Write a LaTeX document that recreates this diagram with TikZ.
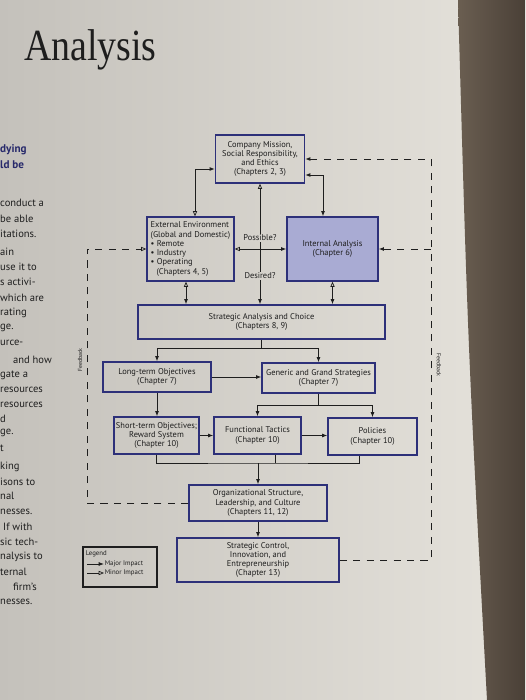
\documentclass[tikz,border=0pt]{standalone}
\usepackage{fontspec}
\setsansfont{PT Sans}
\newfontfamily\titlefont{Liberation Serif}
\usepackage{tikz}
\usetikzlibrary{arrows.meta,positioning,calc}

\definecolor{pageL}{HTML}{C4C1BB}
\definecolor{pageM}{HTML}{D5D2CC}
\definecolor{pageR}{HTML}{E6E3DC}
\definecolor{spineL}{HTML}{6A5E51}
\definecolor{spineR}{HTML}{4A4037}
\definecolor{boxline}{HTML}{2D3079}
\definecolor{iafill}{HTML}{A9ABD3}
\definecolor{ink}{HTML}{1E1E1E}
\definecolor{headblue}{HTML}{27296B}

\tikzset{
  majortip/.tip={Latex[length=4.5pt,width=3.4pt]},
  minortip/.tip={Triangle[open,length=4.5pt,width=3.6pt,line width=0.6pt]},
  chapbox/.style={draw=boxline, line width=1.1pt, align=center, inner sep=1pt,
    font=\sffamily\fontsize{7.2}{7.9}\selectfont, text=ink},
  link/.style={draw=ink, line width=0.75pt},
  feedback/.style={draw=ink, line width=0.8pt, dash pattern=on 6pt off 5.5pt},
  cuelabel/.style={fill=pageM, inner sep=1pt, font=\sffamily\fontsize{7.2}{7.9}\selectfont, text=ink},
  fblabel/.style={inner sep=0pt, font=\sffamily\fontsize{5}{6}\selectfont, text=ink},
  legendtext/.style={anchor=west, inner sep=0.5pt, font=\sffamily\fontsize{5.8}{6.5}\selectfont, text=ink},
  sidetext/.style={anchor=west, inner sep=0pt, font=\sffamily\fontsize{9}{11}\selectfont, text=ink},
}

\begin{document}
\begin{tikzpicture}[x=0.03cm, y=-0.03cm]
  % Page
  \useasboundingbox (0,0) rectangle (525,700);
  \shade[left color=pageL, right color=pageR] (0,0) rectangle (525,700);
  \shade[left color=spineL, right color=spineR] (458,0) .. controls (468,350) .. (487,700) -- (525,700) -- (525,0) -- cycle;

  % Heading and the cut-off text column
  \node[anchor=base west, inner sep=0pt, xscale=0.85, font=\titlefont\fontsize{38}{38}\selectfont, text=ink] (title) at (24,60) {Analysis};
  \node[sidetext, font=\sffamily\bfseries\fontsize{9.5}{11}\selectfont, text=headblue] (head1) at (0,150) {dying};
  \node[sidetext, font=\sffamily\bfseries\fontsize{9.5}{11}\selectfont, text=headblue] (head2) at (0,165) {ld be};
  \foreach \x/\y/\t [count=\i] in {0/203/conduct a, 0/219/be able, 0/234/itations., 0/252/ain,
      0/267/use it to, 0/282/s activi-, 0/298/which are, 0/313/rating, 0/328/ge., 0/343/urce-,
      13/360/and how, 0/375/gate a, 0/390/resources, 0/405/resources, 0/419/d, 0/433/ge.,
      0/448/t, 0/467/king, 0/482/isons to, 0/496/nal, 0/512/nesses., 3/527/If with,
      0/542/sic tech-, 0/557/nalysis to, 0/572/ternal, 13/587/firm’s, 0/602/nesses.} {
    \node[sidetext] (side\i) at (\x,\y) {\t};
  }

  % Boxes
  \node[chapbox, minimum width=2.67cm, minimum height=1.44cm] (mission) at (260,159)
    {Company Mission,\\Social Responsibility,\\and Ethics\\(Chapters 2, 3)};
  \node[chapbox, align=left, minimum width=2.61cm, minimum height=1.92cm] (external) at (190.5,249)
    {External Environment\\(Global and Domestic)\\\textbullet\ Remote\\\textbullet\ Industry\\\textbullet\ Operating\\\hspace*{0.7em}(Chapters 4, 5)};
  \node[chapbox, fill=iafill, minimum width=2.73cm, minimum height=1.92cm] (internal) at (332.5,249)
    {Internal Analysis\\(Chapter 6)};
  \node[chapbox, minimum width=7.41cm, minimum height=1.02cm] (choice) at (261.5,322)
    {Strategic Analysis and Choice\\(Chapters 8, 9)};
  \node[chapbox, minimum width=3.24cm, minimum height=0.90cm] (longterm) at (157,377)
    {Long-term Objectives\\(Chapter 7)};
  \node[chapbox, minimum width=3.39cm, minimum height=0.90cm] (grand) at (318.5,378)
    {Generic and Grand Strategies\\(Chapter 7)};
  \node[chapbox, inner sep=0.5pt, minimum width=2.55cm, minimum height=1.11cm] (shortterm) at (156.5,435.5)
    {Short-term Objectives;\\Reward System\\(Chapter 10)};
  \node[chapbox, minimum width=2.61cm, minimum height=1.11cm] (tactics) at (257.5,435.5)
    {Functional Tactics\\(Chapter 10)};
  \node[chapbox, minimum width=2.67cm, minimum height=1.11cm] (policies) at (372.5,436.5)
    {Policies\\(Chapter 10)};
  \node[chapbox, minimum width=4.14cm, minimum height=1.08cm] (structure) at (258,503)
    {Organizational Structure,\\Leadership, and Culture\\(Chapters 11, 12)};
  \node[chapbox, minimum width=4.86cm, minimum height=1.32cm] (control) at (258,560)
    {Strategic Control,\\Innovation, and\\Entrepreneurship\\(Chapter 13)};

  % Top connectors
  \draw[link, minortip-majortip] (195,0 |- external.north) |- (0,169 -| mission.west);
  \draw[link, majortip-majortip] (mission.east |- 0,175) -| (323,0 |- internal.north);
  \draw[link, minortip-majortip] (external.east) -- (external.east -| internal.west);
  \draw[link, minortip-majortip] (mission.south) -- (mission.south |- choice.north);
  \node[cuelabel] (possible) at (260,238) {Possible?};
  \node[cuelabel] (desired) at (260,276) {Desired?};
  \draw[link, minortip-majortip] (186,0 |- external.south) -- (186,0 |- choice.north);
  \draw[link, minortip-majortip] (internal.south) -- (internal.south |- choice.north);

  % Choice down to objectives and strategies
  \path (choice.south) ++(0,9) coordinate (choicesplit);
  \draw[link] (choice.south) -- (choicesplit);
  \draw[link, -majortip] (choicesplit) -| (longterm.north);
  \draw[link, -majortip] (choicesplit) -| (grand.north);
  \draw[link, -majortip] (longterm.east) -- (longterm.east -| grand.west);
  \draw[link, -majortip] (157,0 |- longterm.south) -- (157,0 |- shortterm.north);
  \path (grand.south) ++(0,12) coordinate (grandsplit);
  \draw[link] (grand.south) -- (grandsplit);
  \draw[link, -majortip] (grandsplit) -| (tactics.north);
  \draw[link, -majortip] (grandsplit) -| (policies.north);
  \draw[link, -majortip] (shortterm.east) -- (shortterm.east -| tactics.west);
  \draw[link, -majortip] (tactics.east) -- (tactics.east -| policies.west);

  % Merge into structure and control
  \coordinate (merge) at (258,463);
  \draw[link] (shortterm.south) |- (merge) -| (359,0 |- policies.south);
  \draw[link] (275,0 |- tactics.south) -- (275,0 |- merge);
  \draw[link, -majortip] (merge) -- (structure.north);
  \draw[link, -majortip] (structure.south) -- (structure.south |- control.north);

  % Feedback loops
  \coordinate (fbleft) at (87,0);
  \coordinate (fbright) at (431,0);
  \draw[feedback, -minortip] (structure.west) -| (fbleft |- external.west) -- (external.west);
  \draw[feedback, -majortip] (control.east) -| (fbright |- mission.east) -- (mission.east);
  \draw[feedback, -majortip] (fbright |- internal.east) -- (internal.east);
  \node[fblabel, rotate=90] (fblefttext) at (80,360) {Feedback};
  \node[fblabel, rotate=-90] (fbrighttext) at (439,365) {Feedback};

  % Legend
  \node[draw=ink, line width=0.9pt, minimum width=2.22cm, minimum height=1.2cm] (legend) at (120,567) {};
  \node[legendtext] (legendhead) at (85,554) {Legend};
  \coordinate (majorstart) at (87,564);
  \coordinate (minorstart) at (87,573);
  \node[legendtext] (majorlabel) at (104,564) {Major Impact};
  \node[legendtext] (minorlabel) at (104,573) {Minor Impact};
  \draw[link, -majortip] (majorstart) -- (majorlabel.west);
  \draw[link, -minortip] (minorstart) -- (minorlabel.west);
\end{tikzpicture}
\end{document}
